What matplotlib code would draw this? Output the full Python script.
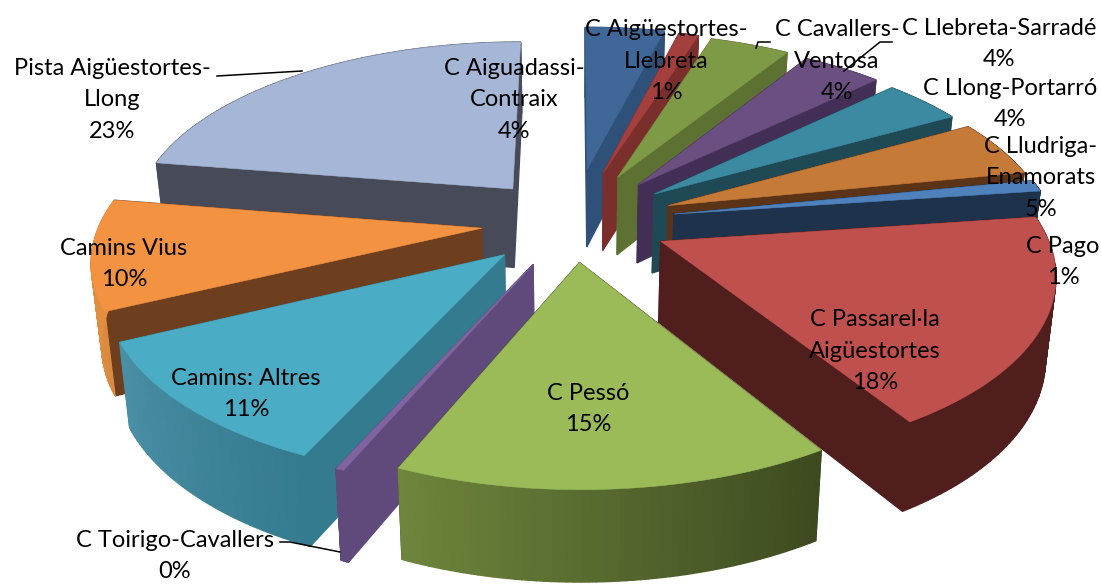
import numpy as np
import matplotlib
matplotlib.use("Agg")
from matplotlib import pyplot as plt
from matplotlib.colors import to_rgb
from matplotlib.patches import Polygon

names = ["C Aiguadassi-\nContraix", "C Aigüestortes-\nLlebreta", "C Cavallers-\nVentosa",
         "C Llebreta-Sarradé", "C Llong-Portarró", "C Lludriga-\nEnamorats", "C Pago",
         "C Passarel·la\nAigüestortes", "C Pessó", "C Toirigo-Cavallers",
         "Camins: Altres", "Camins Vius", "Pista Aigüestortes-\nLlong"]
values = [4, 1, 4, 4, 4, 5, 1, 18.4, 15.4, 0.3, 11.2, 9.7, 22.6]
explode = [0.31, 0.30, 0.29, 0.28, 0.27, 0.27, 0.27, 0.25, 0.22, 0.25, 0.25, 0.24, 0.25]

top_cols = ["#3f6797", "#a33f3c", "#7f9a46", "#6a4f80", "#3c8aa2", "#c67a37", "#4f81bd",
            "#c0504d", "#9bbb59", "#8064a2", "#4bacc6", "#f39241", "#a6b6d6"]
wall_cols = ["#2f5078", "#7a2f2d", "#5d7232", "#432f56", "#1f4a55", "#5b3417", "#1f324b",
             "#4f1e1d", "#3d4a20", "#604a7b", "#357b8f", "#6e3f1f", "#474b59"]
arc_start = ["#2f5078", "#7a2f2d", "#5d7232", "#432f56", "#1f4a55", "#5b3417", "#1f324b",
             "#4f1e1d", "#3d4a20", "#604a7b", "#357b8f", "#d98a40", "#474b59"]
arc_end = ["#2f5078", "#7a2f2d", "#5d7232", "#432f56", "#1f4a55", "#5b3417", "#1f324b",
           "#4f1e1d", "#6d853c", "#604a7b", "#4a8fa5", "#e8923f", "#474b59"]

# text block centres, same order as names
label_x = [514, 666, 837, 999, 1010, 1041, 1063, 875, 588, 175, 246, 124, 112]
label_y = [100, 61, 61, 44, 104, 178, 262, 351, 409, 556, 394, 264, 100]

# leader lines
leaders = [([217, 302], [76, 71]),
           ([756, 758, 770], [48, 42, 42]),
           ([844, 880, 892], [71, 42, 42]),
           ([280, 290, 340], [542, 542, 552])]

# perspective settings, fitted by eye
cx, cy = 573, 222
f, g, d = 2500, 1170, 6.55
depth = 80
shrink = 0.978


def project(X, Y):
    return cx + f * X / (d + Y), cy - g * Y / (d + Y)


def lower(sx, sy, Y):
    h = depth * (d / (d + Y)) ** 0.7
    return cx + (sx - cx) * shrink, sy + h


def mix(c1, c2, t):
    a, b = np.array(to_rgb(c1)), np.array(to_rgb(c2))
    return tuple(a + (b - a) * t)


def quad(ax, p1, p2, col):
    q1 = lower(p1[0], p1[1], p1[2])
    q2 = lower(p2[0], p2[1], p2[2])
    pts = [p1[:2], p2[:2], q2, q1]
    ax.add_patch(Polygon(pts, closed=True, facecolor=col, edgecolor=col, lw=1.0))


fig = plt.figure(figsize=(11.01, 5.84), dpi=100)
ax = fig.add_axes([0, 0, 1, 1])
ax.set_xlim(0, 1101)
ax.set_ylim(584, 0)
ax.axis("off")

fracs = np.cumsum([0] + values) / sum(values)

for i in [0, 1, 2, 3, 4, 5, 6, 7, 12, 11, 10, 9, 8]:
    t0 = 2 * np.pi * fracs[i]
    t1 = 2 * np.pi * fracs[i + 1]
    m = (t0 + t1) / 2
    ox = explode[i] * np.sin(m)
    oy = explode[i] * np.cos(m)

    th = np.linspace(t0, t1, 60)
    Xs = ox + np.sin(th)
    Ys = oy + np.cos(th)
    sx, sy = project(Xs, Ys)
    ax0, ay0 = project(ox, oy)
    apex = (ax0, ay0, oy)
    first = (sx[0], sy[0], Ys[0])
    last = (sx[-1], sy[-1], Ys[-1])

    back = oy + np.cos(m) > 0
    if not back:
        quad(ax, apex, first, wall_cols[i])
        quad(ax, apex, last, wall_cols[i])
    for k in range(len(th) - 1):
        col = mix(arc_start[i], arc_end[i], k / (len(th) - 2))
        quad(ax, (sx[k], sy[k], Ys[k]), (sx[k + 1], sy[k + 1], Ys[k + 1]), col)
    if back:
        quad(ax, apex, first, wall_cols[i])
        quad(ax, apex, last, wall_cols[i])

    pts = [(ax0, ay0)] + list(zip(sx, sy))
    ax.add_patch(Polygon(pts, closed=True, facecolor=top_cols[i], edgecolor=top_cols[i], lw=0.4))

for xs, ys in leaders:
    ax.plot(xs, ys, color="black", lw=1.1)

for i in range(len(names)):
    txt = names[i] + "\n" + "%d%%" % round(values[i])
    ax.text(label_x[i], label_y[i], txt, ha="center", va="center", fontsize=17,
            family="Lato", color="black", linespacing=1.6)

fig.savefig("out.png", dpi=100)
